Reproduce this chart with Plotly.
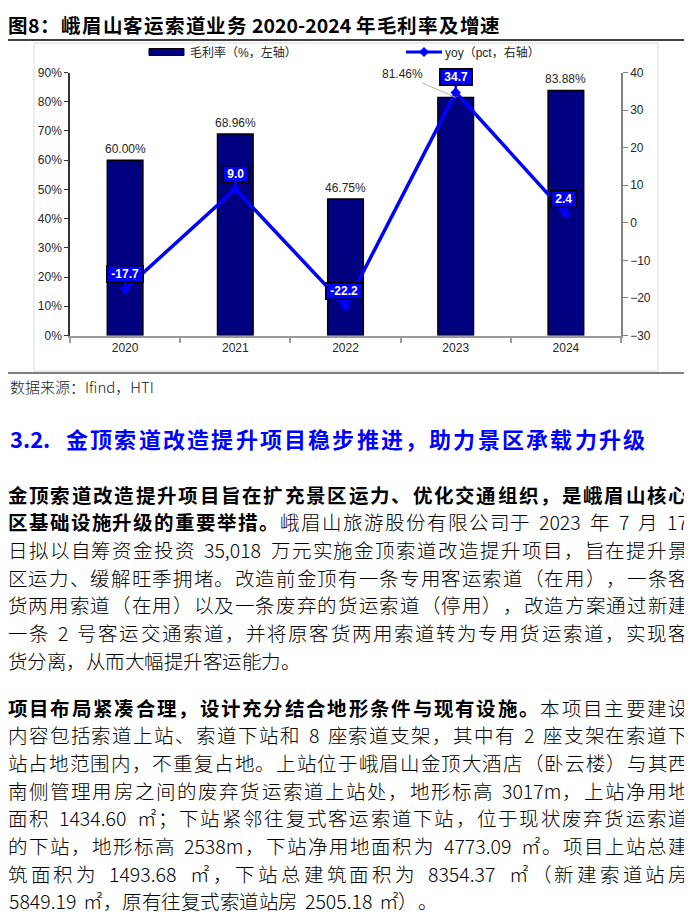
import plotly.graph_objects as go

# The page body adds an 8px margin; lay out in window pixels and shift.
WIN_W, WIN_H = 692, 916
OX, OY = 8, 8
W, H = WIN_W - OX, WIN_H - OY

# ---------------- data ----------------
years = ["2020", "2021", "2022", "2023", "2024"]
gross_margin = [60.00, 68.96, 46.75, 81.46, 83.88]     # %, left axis
yoy = [-17.7, 9.0, -22.2, 34.7, 2.4]                   # pct, right axis
left_ticks = [0, 10, 20, 30, 40, 50, 60, 70, 80, 90]
left_tick_labels = [f"{v}%" for v in left_ticks]
right_ticks = [-30, -20, -10, 0, 10, 20, 30, 40]
bar_name = "毛利率（%，左轴）"
line_name = "yoy（pct，右轴）"

title_text = "图8：峨眉山客运索道业务 2020-2024 年毛利率及增速"
source_text = "数据来源：Ifind，HTI"
heading_num = "3.2."
heading_text = "金顶索道改造提升项目稳步推进，助力景区承载力升级"

para1 = [
    [("金顶索道改造提升项目旨在扩充景区运力、优化交通组织，是峨眉山核心", True)],
    [("区基础设施升级的重要举措。", True), ("峨眉山旅游股份有限公司于 2023 年 7 月 17", False)],
    [("日拟以自筹资金投资 35,018 万元实施金顶索道改造提升项目，旨在提升景", False)],
    [("区运力、缓解旺季拥堵。改造前金顶有一条专用客运索道（在用），一条客", False)],
    [("货两用索道（在用）以及一条废弃的货运索道（停用），改造方案通过新建", False)],
    [("一条 2 号客运交通索道，并将原客货两用索道转为专用货运索道，实现客", False)],
    [("货分离，从而大幅提升客运能力。", False)],
]
para2 = [
    [("项目布局紧凑合理，设计充分结合地形条件与现有设施。", True), ("本项目主要建设", False)],
    [("内容包括索道上站、索道下站和 8 座索道支架，其中有 2 座支架在索道下", False)],
    [("站占地范围内，不重复占地。上站位于峨眉山金顶大酒店（卧云楼）与其西", False)],
    [("南侧管理用房之间的废弃货运索道上站处，地形标高 3017m，上站净用地", False)],
    [("面积 1434.60 ㎡；下站紧邻往复式客运索道下站，位于现状废弃货运索道", False)],
    [("的下站，地形标高 2538m，下站净用地面积为 4773.09 ㎡。项目上站总建", False)],
    [("筑面积为 1493.68 ㎡，下站总建筑面积为 8354.37 ㎡（新建索道站房", False)],
    [("5849.19 ㎡，原有往复式索道站房 2505.18 ㎡）。", False)],
]

CJK_FONT = "Noto Sans CJK SC"
LAT_FONT = "Liberation Sans, Arial, sans-serif"
NB = "\u00a0"


def px(x):
    return (max(x, OX) - OX) / W


def py(y):
    return 1 - (y - OY) / H


def char_w(c, fs):
    if ord(c) > 0x2E80 or c in "，。；：（）、":
        return fs
    table = {'.': 0.26, ',': 0.26, 'm': 0.83, 'I': 0.26, 'f': 0.3, 'i': 0.24,
             'n': 0.56, 'd': 0.57, 'H': 0.66, 'T': 0.5, '-': 0.34, ':': 0.26, ' ': 0.3}
    if c.isdigit():
        return 0.55 * fs
    return table.get(c, 0.55) * fs


def tokenize(segments):
    toks = []
    for text, bold in segments:
        run = ""
        for c in text:
            if ord(c) < 128 and c != " ":
                run += c
                continue
            if run:
                toks.append((run, bold))
                run = ""
            toks.append((c, bold))
        if run:
            toks.append((run, bold))
    return toks


def layout_line(segments, x0, x1, y, fs, color="#000000", justify=True,
                extra_default=0.0, top_anchor=False):
    toks = tokenize(segments)
    widths = [sum(char_w(c, fs) for c in t) for t, _ in toks]
    natural = sum(widths)
    if justify and len(toks) > 1:
        extra = (x1 - x0 - natural) / (len(toks) - 1)
    else:
        extra = extra_default
    out = []
    x = x0
    for (t, bold), w in zip(toks, widths):
        if t != " ":
            out.append(dict(
                x=px(x + w / 2), y=1.0 if top_anchor else py(y), xref="paper", yref="paper",
                xanchor="center", yanchor="top" if top_anchor else "middle",
                showarrow=False, text=t,
                font=dict(family=CJK_FONT, size=fs, color=color, weight=700 if bold else 300),
            ))
        x += w + extra
    return out


# ---------------- chart ----------------
fig = go.Figure()
fig.add_bar(
    x=years, y=gross_margin, name=bar_name, width=0.323, yaxis="y",
    marker=dict(color="#000080", line=dict(color="#000000", width=1.5)),
    showlegend=False,
)
fig.add_scatter(
    x=years, y=yoy, name=line_name, yaxis="y2", mode="lines+markers",
    line=dict(color="#0000FF", width=3.5),
    marker=dict(symbol="diamond", size=8, color="#0000FF"),
    showlegend=False,
)

anns = []
# bar value labels (x given as category index)
for i, v in enumerate(gross_margin):
    if years[i] == "2023":
        anns.append(dict(
            x=i, y=v, xref="x", yref="y", text=f"{v:.2f}%", showarrow=True,
            ax=-53, ay=-23, arrowhead=0, arrowwidth=1, arrowcolor="#b0b0b0", standoff=0,
            font=dict(family=LAT_FONT, size=12, color="#262626"),
        ))
    else:
        anns.append(dict(
            x=i, y=v, xref="x", yref="y", text=f"{v:.2f}%", showarrow=False,
            yshift=11, yanchor="middle",
            font=dict(family=LAT_FONT, size=12, color="#262626"),
        ))
# yoy labels
for i, v in enumerate(yoy):
    anns.append(dict(
        x=i, y=v, xref="x", yref="y2", text=f"<b>{NB}{v:.1f}{NB}</b>", showarrow=True,
        ax=-2 if years[i] in ("2024", "2022") else 0, ay=-15, arrowhead=0, arrowwidth=2.5,
        arrowcolor="#0000FF", standoff=0,
        bgcolor="#0000FF", bordercolor="#000000", borderwidth=1.5, borderpad=0.5,
        font=dict(family=LAT_FONT, size=12, color="#FFFFFF"),
    ))

# legend (manual)
anns.append(dict(x=px(188), y=py(52), xref="paper", yref="paper", xanchor="left",
                 yanchor="middle", showarrow=False, text=bar_name,
                 font=dict(family=LAT_FONT + ", " + CJK_FONT, size=12, color="#262626")))
anns.append(dict(x=px(443), y=py(52), xref="paper", yref="paper", xanchor="left",
                 yanchor="middle", showarrow=False, text=line_name,
                 font=dict(family=LAT_FONT + ", " + CJK_FONT, size=12, color="#262626")))

shapes = [
    # title underline
    dict(type="line", xref="paper", yref="paper", x0=px(4), x1=px(690), y0=py(40), y1=py(40),
         line=dict(color="#000000", width=1.5)),
    # chart frame
    dict(type="rect", xref="paper", yref="paper", x0=px(34), x1=px(658), y0=py(371), y1=py(43),
         line=dict(color="#d9d9d9", width=1)),
    # source line
    dict(type="line", xref="paper", yref="paper", x0=px(4), x1=px(690), y0=py(373), y1=py(373),
         line=dict(color="#000000", width=1.2)),
    # legend swatches
    dict(type="rect", xref="paper", yref="paper", x0=px(149), x1=px(184), y0=py(55.5), y1=py(48.5),
         fillcolor="#000080", line=dict(color="#000000", width=1)),
    dict(type="line", xref="paper", yref="paper", x0=px(406), x1=px(442), y0=py(52), y1=py(52),
         line=dict(color="#0000FF", width=3)),
    dict(type="path", xref="paper", yref="paper",
         path=f"M {px(419.5)},{py(52)} L {px(424)},{py(47.5)} L {px(428.5)},{py(52)} L {px(424)},{py(56.5)} Z",
         fillcolor="#0000FF", line=dict(color="#0000FF", width=1)),
]

# ---------------- page text ----------------
anns += layout_line([(title_text, True)], 8, 500, 19, 19.5, justify=True, top_anchor=True)
anns.append(dict(x=px(8), y=py(386), xref="paper", yref="paper", xanchor="left", yanchor="middle",
                 showarrow=False, text=source_text,
                 font=dict(family=CJK_FONT, size=15, color="#1a1a1a", weight=300)))
anns.append(dict(x=px(8), y=py(438), xref="paper", yref="paper", xanchor="left", yanchor="middle",
                 showarrow=False, text=heading_num,
                 font=dict(family=CJK_FONT, size=22, color="#0000FF", weight=700)))
anns += layout_line([(heading_text, True)], 66, 645, 438, 22, color="#0000FF", justify=True)

FS = 19.5
LS = 27.7
for i, line in enumerate(para1):
    last = i == len(para1) - 1
    anns += layout_line(line, 8, 688, 494 + i * LS, FS, justify=not last)
for i, line in enumerate(para2):
    last = i == len(para2) - 1
    anns += layout_line(line, 8, 688, 707 + i * LS, FS, justify=not last)

tickfont = dict(family=LAT_FONT, size=12, color="#262626")
fig.update_layout(
    width=W, height=H, autosize=False,
    margin=dict(l=0, r=0, t=0, b=0, pad=0),
    paper_bgcolor="#FFFFFF", plot_bgcolor="#FFFFFF",
    showlegend=False,
    xaxis=dict(domain=[px(70), px(621)], type="category", range=[-0.5, 4.5],
               showline=True, linecolor="#9a9a9a", linewidth=2, ticks="outside",
               tickson="boundaries", ticklen=5, tickcolor="#9a9a9a", tickwidth=1.5,
               tickfont=tickfont, showgrid=False, zeroline=False, automargin=False),
    yaxis=dict(domain=[py(335.5), py(72.5)], range=[0, 90], tickvals=left_ticks,
               ticktext=left_tick_labels, showline=True, linecolor="#333333", linewidth=1.5,
               ticks="outside", ticklen=4, tickcolor="#333333", tickfont=tickfont,
               showgrid=False, zeroline=False, automargin=False),
    yaxis2=dict(overlaying="y", side="right", anchor="x", range=[-30, 40], tickvals=right_ticks,
                showline=True, linecolor="#808080", linewidth=1.5, ticks="outside", ticklen=5,
                tickcolor="#808080", tickfont=tickfont, showgrid=False, zeroline=False,
                automargin=False),
    annotations=anns,
    shapes=shapes,
)

fig.write_html("out.html")
